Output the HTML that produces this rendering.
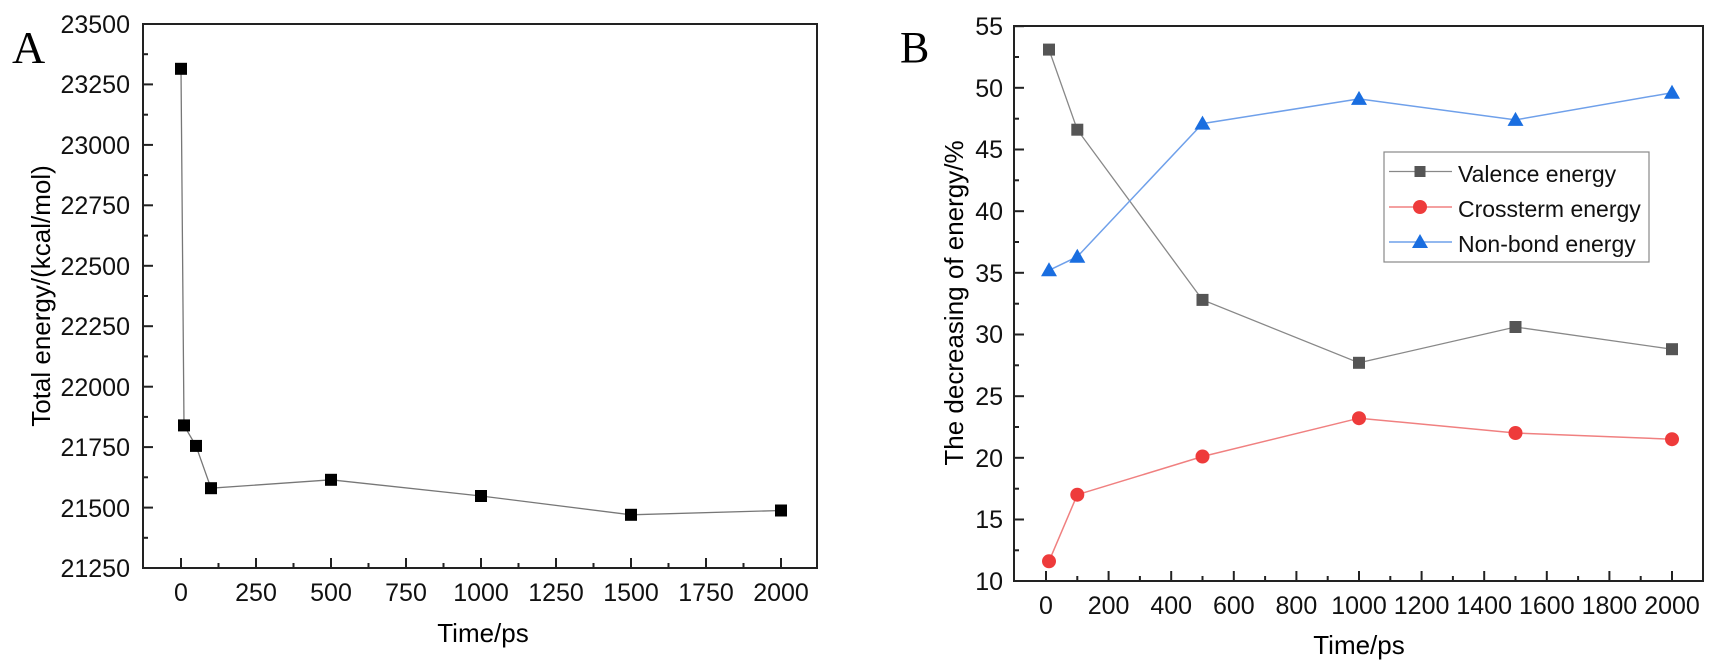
<!DOCTYPE html>
<html><head><meta charset="utf-8"><style>body{margin:0;background:#fff}svg{display:block}</style></head>
<body>
<svg width="1720" height="664" xmlns="http://www.w3.org/2000/svg" font-family="Liberation Sans, Arial, sans-serif">
<rect width="1720" height="664" fill="#fff"/>
<!-- Panel A -->
<text x="12" y="63" font-family="Liberation Serif, serif" font-size="46">A</text>
<rect x="143" y="24" width="674" height="544" fill="none" stroke="#222" stroke-width="2"/>
<g stroke="#222" stroke-width="2">
<line x1="143" y1="24" x2="153" y2="24"/><line x1="143" y1="84.4" x2="153" y2="84.4"/><line x1="143" y1="144.9" x2="153" y2="144.9"/><line x1="143" y1="205.3" x2="153" y2="205.3"/><line x1="143" y1="265.8" x2="153" y2="265.8"/><line x1="143" y1="326.2" x2="153" y2="326.2"/><line x1="143" y1="386.7" x2="153" y2="386.7"/><line x1="143" y1="447.1" x2="153" y2="447.1"/><line x1="143" y1="507.6" x2="153" y2="507.6"/>
<line x1="143" y1="54.2" x2="148" y2="54.2"/><line x1="143" y1="114.7" x2="148" y2="114.7"/><line x1="143" y1="175.1" x2="148" y2="175.1"/><line x1="143" y1="235.6" x2="148" y2="235.6"/><line x1="143" y1="296" x2="148" y2="296"/><line x1="143" y1="356.4" x2="148" y2="356.4"/><line x1="143" y1="416.9" x2="148" y2="416.9"/><line x1="143" y1="477.3" x2="148" y2="477.3"/><line x1="143" y1="537.8" x2="148" y2="537.8"/>
<line x1="181" y1="568" x2="181" y2="558"/><line x1="256" y1="568" x2="256" y2="558"/><line x1="331" y1="568" x2="331" y2="558"/><line x1="406" y1="568" x2="406" y2="558"/><line x1="481" y1="568" x2="481" y2="558"/><line x1="556" y1="568" x2="556" y2="558"/><line x1="631" y1="568" x2="631" y2="558"/><line x1="706" y1="568" x2="706" y2="558"/><line x1="781" y1="568" x2="781" y2="558"/>
<line x1="218.5" y1="568" x2="218.5" y2="563"/><line x1="293.5" y1="568" x2="293.5" y2="563"/><line x1="368.5" y1="568" x2="368.5" y2="563"/><line x1="443.5" y1="568" x2="443.5" y2="563"/><line x1="518.5" y1="568" x2="518.5" y2="563"/><line x1="593.5" y1="568" x2="593.5" y2="563"/><line x1="668.5" y1="568" x2="668.5" y2="563"/><line x1="743.5" y1="568" x2="743.5" y2="563"/>
</g>
<g font-size="25" text-anchor="end" fill="#111">
<text x="130" y="33">23500</text><text x="130" y="93">23250</text><text x="130" y="154">23000</text><text x="130" y="214">22750</text><text x="130" y="275">22500</text><text x="130" y="335">22250</text><text x="130" y="396">22000</text><text x="130" y="456">21750</text><text x="130" y="517">21500</text><text x="130" y="577">21250</text>
</g>
<g font-size="25" text-anchor="middle" fill="#111">
<text x="181" y="601">0</text><text x="256" y="601">250</text><text x="331" y="601">500</text><text x="406" y="601">750</text><text x="481" y="601">1000</text><text x="556" y="601">1250</text><text x="631" y="601">1500</text><text x="706" y="601">1750</text><text x="781" y="601">2000</text>
</g>
<text x="483" y="642" font-size="26" text-anchor="middle">Time/ps</text>
<text transform="translate(50,296) rotate(-90)" font-size="26" text-anchor="middle">Total energy/(kcal/mol)</text>
<polyline fill="none" stroke="#777" stroke-width="1.3" points="181,68.8 184,425.4 196,445.9 211,488.2 331,479.8 481,496 631,514.8 781,510.5"/>
<g fill="#000">
<rect x="175" y="62.8" width="12" height="12"/><rect x="178" y="419.4" width="12" height="12"/><rect x="190" y="439.9" width="12" height="12"/><rect x="205" y="482.2" width="12" height="12"/><rect x="325" y="473.8" width="12" height="12"/><rect x="475" y="490" width="12" height="12"/><rect x="625" y="508.8" width="12" height="12"/><rect x="775" y="504.5" width="12" height="12"/>
</g>
<!-- Panel B -->
<text x="900" y="62" font-family="Liberation Serif, serif" font-size="44">B</text>
<rect x="1014" y="26" width="689" height="555" fill="none" stroke="#222" stroke-width="2"/>
<g stroke="#222" stroke-width="2">
<line x1="1014" y1="26.2" x2="1024" y2="26.2"/><line x1="1014" y1="87.8" x2="1024" y2="87.8"/><line x1="1014" y1="149.5" x2="1024" y2="149.5"/><line x1="1014" y1="211.2" x2="1024" y2="211.2"/><line x1="1014" y1="272.8" x2="1024" y2="272.8"/><line x1="1014" y1="334.5" x2="1024" y2="334.5"/><line x1="1014" y1="396.2" x2="1024" y2="396.2"/><line x1="1014" y1="457.8" x2="1024" y2="457.8"/><line x1="1014" y1="519.5" x2="1024" y2="519.5"/>
<line x1="1014" y1="57" x2="1019" y2="57"/><line x1="1014" y1="118.7" x2="1019" y2="118.7"/><line x1="1014" y1="180.3" x2="1019" y2="180.3"/><line x1="1014" y1="242" x2="1019" y2="242"/><line x1="1014" y1="303.7" x2="1019" y2="303.7"/><line x1="1014" y1="365.3" x2="1019" y2="365.3"/><line x1="1014" y1="427" x2="1019" y2="427"/><line x1="1014" y1="488.7" x2="1019" y2="488.7"/><line x1="1014" y1="550.3" x2="1019" y2="550.3"/>
<line x1="1046" y1="581" x2="1046" y2="571"/><line x1="1108.6" y1="581" x2="1108.6" y2="571"/><line x1="1171.2" y1="581" x2="1171.2" y2="571"/><line x1="1233.8" y1="581" x2="1233.8" y2="571"/><line x1="1296.4" y1="581" x2="1296.4" y2="571"/><line x1="1359" y1="581" x2="1359" y2="571"/><line x1="1421.6" y1="581" x2="1421.6" y2="571"/><line x1="1484.2" y1="581" x2="1484.2" y2="571"/><line x1="1546.8" y1="581" x2="1546.8" y2="571"/><line x1="1609.4" y1="581" x2="1609.4" y2="571"/><line x1="1672" y1="581" x2="1672" y2="571"/>
<line x1="1077.3" y1="581" x2="1077.3" y2="576"/><line x1="1139.9" y1="581" x2="1139.9" y2="576"/><line x1="1202.5" y1="581" x2="1202.5" y2="576"/><line x1="1265.1" y1="581" x2="1265.1" y2="576"/><line x1="1327.7" y1="581" x2="1327.7" y2="576"/><line x1="1390.3" y1="581" x2="1390.3" y2="576"/><line x1="1452.9" y1="581" x2="1452.9" y2="576"/><line x1="1515.5" y1="581" x2="1515.5" y2="576"/><line x1="1578.1" y1="581" x2="1578.1" y2="576"/><line x1="1640.7" y1="581" x2="1640.7" y2="576"/>
</g>
<g font-size="25" text-anchor="end" fill="#111">
<text x="1003" y="35">55</text><text x="1003" y="97">50</text><text x="1003" y="158">45</text><text x="1003" y="220">40</text><text x="1003" y="282">35</text><text x="1003" y="343">30</text><text x="1003" y="405">25</text><text x="1003" y="467">20</text><text x="1003" y="528">15</text><text x="1003" y="590">10</text>
</g>
<g font-size="25" text-anchor="middle" fill="#111">
<text x="1046" y="614">0</text><text x="1108.6" y="614">200</text><text x="1171.2" y="614">400</text><text x="1233.8" y="614">600</text><text x="1296.4" y="614">800</text><text x="1359" y="614">1000</text><text x="1421.6" y="614">1200</text><text x="1484.2" y="614">1400</text><text x="1546.8" y="614">1600</text><text x="1609.4" y="614">1800</text><text x="1672" y="614">2000</text>
</g>
<text x="1359" y="654" font-size="26" text-anchor="middle">Time/ps</text>
<text transform="translate(963,303) rotate(-90)" font-size="26" text-anchor="middle">The decreasing of energy/%</text>
<!-- series -->
<polyline fill="none" stroke="#888" stroke-width="1.3" points="1049,49.6 1077.3,129.7 1202.5,299.9 1359,362.8 1515.5,327 1672,349.2"/>
<polyline fill="none" stroke="#f08080" stroke-width="1.5" points="1049,561.3 1077.3,494.7 1202.5,456.5 1359,418.2 1515.5,433 1672,439.2"/>
<polyline fill="none" stroke="#6fa0ea" stroke-width="1.5" points="1049,270.3 1077.3,256.7 1202.5,123.6 1359,98.9 1515.5,119.9 1672,92.7"/>
<g fill="#555"><rect x="1043" y="43.6" width="12" height="12"/><rect x="1071.3" y="123.7" width="12" height="12"/><rect x="1196.5" y="293.9" width="12" height="12"/><rect x="1353" y="356.8" width="12" height="12"/><rect x="1509.5" y="321" width="12" height="12"/><rect x="1666" y="343.2" width="12" height="12"/></g>
<g fill="#ee3b3b"><circle cx="1049" cy="561.3" r="7"/><circle cx="1077.3" cy="494.7" r="7"/><circle cx="1202.5" cy="456.5" r="7"/><circle cx="1359" cy="418.2" r="7"/><circle cx="1515.5" cy="433" r="7"/><circle cx="1672" cy="439.2" r="7"/></g>
<g fill="#1a6ee0">
<polygon points="1049,262.3 1041,276.3 1057,276.3"/><polygon points="1077.3,248.7 1069.3,262.7 1085.3,262.7"/><polygon points="1202.5,115.6 1194.5,129.6 1210.5,129.6"/><polygon points="1359,90.9 1351,104.9 1367,104.9"/><polygon points="1515.5,111.9 1507.5,125.9 1523.5,125.9"/><polygon points="1672,84.7 1664,98.7 1680,98.7"/>
</g>
<!-- legend -->
<rect x="1384" y="152" width="265" height="110" fill="#fff" stroke="#888" stroke-width="1.2"/>
<line x1="1389" y1="171.5" x2="1452" y2="171.5" stroke="#888" stroke-width="1.3"/><rect x="1414.5" y="166" width="11" height="11" fill="#555"/>
<line x1="1389" y1="207" x2="1452" y2="207" stroke="#f08080" stroke-width="1.5"/><circle cx="1420" cy="207" r="7" fill="#ee3b3b"/>
<line x1="1389" y1="242" x2="1452" y2="242" stroke="#6fa0ea" stroke-width="1.5"/><polygon points="1420,234 1412,248 1428,248" fill="#1a6ee0"/>
<g font-size="23" fill="#111"><text x="1458" y="182">Valence energy</text><text x="1458" y="217">Crossterm energy</text><text x="1458" y="252">Non-bond energy</text></g>
</svg>
</body></html>
